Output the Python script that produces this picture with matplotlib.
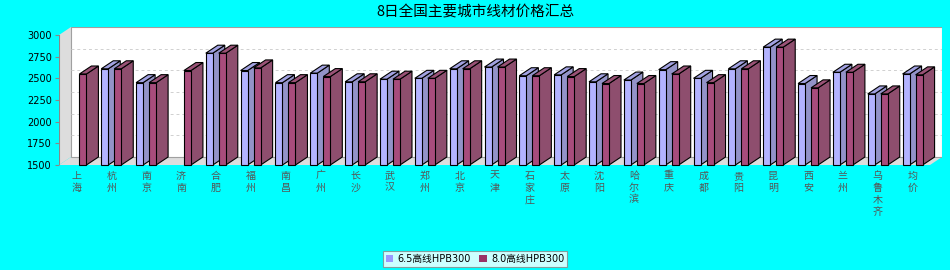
import numpy as np
import matplotlib
matplotlib.use("Agg")
import matplotlib.pyplot as plt
from matplotlib.patches import Polygon, Patch

plt.rcParams['font.family'] = ['Noto Sans CJK SC', 'DejaVu Sans']

title = "8日全国主要城市线材价格汇总"
categories = ['上海', '杭州', '南京', '济南', '合肥', '福州', '南昌', '广州', '长沙', '武汉',
              '郑州', '北京', '天津', '石家庄', '太原', '沈阳', '哈尔滨', '重庆', '成都', '贵阳',
              '昆明', '西安', '兰州', '乌鲁木齐', '均价']
series_names = ['6.5高线HPB300', '8.0高线HPB300']
p65 = [np.nan, 2610, 2450, np.nan, 2790, 2590, 2450, 2560, 2460, 2490,
       2500, 2610, 2630, 2530, 2540, 2460, 2480, 2600, 2500, 2610,
       2860, 2440, 2570, 2320, 2550]
p80 = [2550, 2610, 2450, 2590, 2790, 2620, 2450, 2520, 2460, 2490,
       2500, 2610, 2630, 2530, 2520, 2440, 2440, 2550, 2450, 2610,
       2860, 2390, 2570, 2320, 2540]
yticks = [1500, 1750, 2000, 2250, 2500, 2750, 3000]

W, H = 950, 270
fig = plt.figure(figsize=(W / 100, H / 100), dpi=100)
fig.patch.set_facecolor('#00FFFF')

n = len(categories)
px_per_x = 871 / n
dx = 12 / px_per_x
px_per_y = 130 / 1500
dy = 8 / px_per_y
ymin, ymax = 1500, 3000

ax = fig.add_axes([59 / W, (H - 165) / H, 883 / W, 138 / H])
ax.set_xlim(0, n + dx)
ax.set_ylim(ymin, ymax + dy)
ax.patch.set_visible(False)
for s in ax.spines.values():
    s.set_visible(False)

wall = '#DDDDDD'
# left wall
ax.add_patch(Polygon([(0, ymin), (0, ymax), (dx, ymax + dy), (dx, ymin + dy)],
                     closed=True, facecolor=wall, edgecolor='none', zorder=1))
# floor
ax.add_patch(Polygon([(0, ymin), (n, ymin), (n + dx, ymin + dy), (dx, ymin + dy)],
                     closed=True, facecolor=wall, edgecolor='none', zorder=1))
# back wall
ax.add_patch(Polygon([(dx, ymin + dy), (n + dx, ymin + dy), (n + dx, ymax + dy), (dx, ymax + dy)],
                     closed=True, facecolor='white', edgecolor='#A0A0A0', lw=0.8, zorder=1))
for v in yticks[1:-1]:
    ax.plot([dx, n + dx], [v + dy, v + dy], color='#D0D0D0', lw=0.7,
            linestyle=(0, (3, 3)), zorder=2)
# left axis line
ax.plot([0, 0], [ymin, ymax], color='#888888', lw=0.8, zorder=2)

bw = 7 / px_per_x
offs = [-10 / px_per_x, 3 / px_per_x]
cols = [('#B3B3FF', '#9393C8', '#A2A2E2'), ('#A84C7C', '#8E4E6E', '#9A5276')]
series = [p65, p80]

for i in range(n):
    c = i + 0.5
    for k in range(2):
        v = series[k][i]
        if np.isnan(v):
            continue
        x0 = c + offs[k]
        x1 = x0 + bw
        front, side, top = cols[k]
        z = 3 + i * 0.01 + k * 0.001
        ax.add_patch(Polygon([(x1, ymin), (x1 + dx, ymin + dy), (x1 + dx, v + dy), (x1, v)],
                             closed=True, facecolor=side, edgecolor='black', lw=0.8,
                             clip_on=False, zorder=z))
        ax.add_patch(Polygon([(x0, v), (x1, v), (x1 + dx, v + dy), (x0 + dx, v + dy)],
                             closed=True, facecolor=top, edgecolor='black', lw=0.8,
                             clip_on=False, zorder=z))
        ax.add_patch(Polygon([(x0, ymin), (x1, ymin), (x1, v), (x0, v)],
                             closed=True, facecolor=front, edgecolor='black', lw=0.8,
                             clip_on=False, zorder=z))

ax.set_yticks(yticks)
ax.set_yticklabels([str(t) for t in yticks], fontsize=7, family='DejaVu Sans')
ax.tick_params(axis='y', length=3, width=0.8, color='#888888', pad=2)
ax.set_xticks([i + 0.5 for i in range(n)])
ax.set_xticklabels(['\n'.join(list(cn)) for cn in categories], fontsize=7.2,
                   color='#555555', linespacing=1.25, va='top')
ax.tick_params(axis='x', length=0, pad=4)

fig.text(475 / W, 1 - 12 / H, title, ha='center', va='center', fontsize=10.5, color='black')

handles = [Patch(facecolor='#9999FF', edgecolor='none', label=series_names[0]),
           Patch(facecolor='#993366', edgecolor='none', label=series_names[1])]
leg = fig.legend(handles=handles, loc='center', bbox_to_anchor=(475 / W, 1 - 259 / H),
                 ncol=2, frameon=True, fancybox=False, borderpad=0.3,
                 prop={'family': ['DejaVu Sans', 'Noto Sans CJK SC'], 'size': 7},
                 handlelength=0.8, handleheight=0.8, handletextpad=0.4, columnspacing=0.9,
                 borderaxespad=0)
leg.get_frame().set_edgecolor('#888888')
leg.get_frame().set_linewidth(0.8)
leg.get_frame().set_facecolor('white')

fig.savefig('out.png', dpi=100, facecolor=fig.get_facecolor())
